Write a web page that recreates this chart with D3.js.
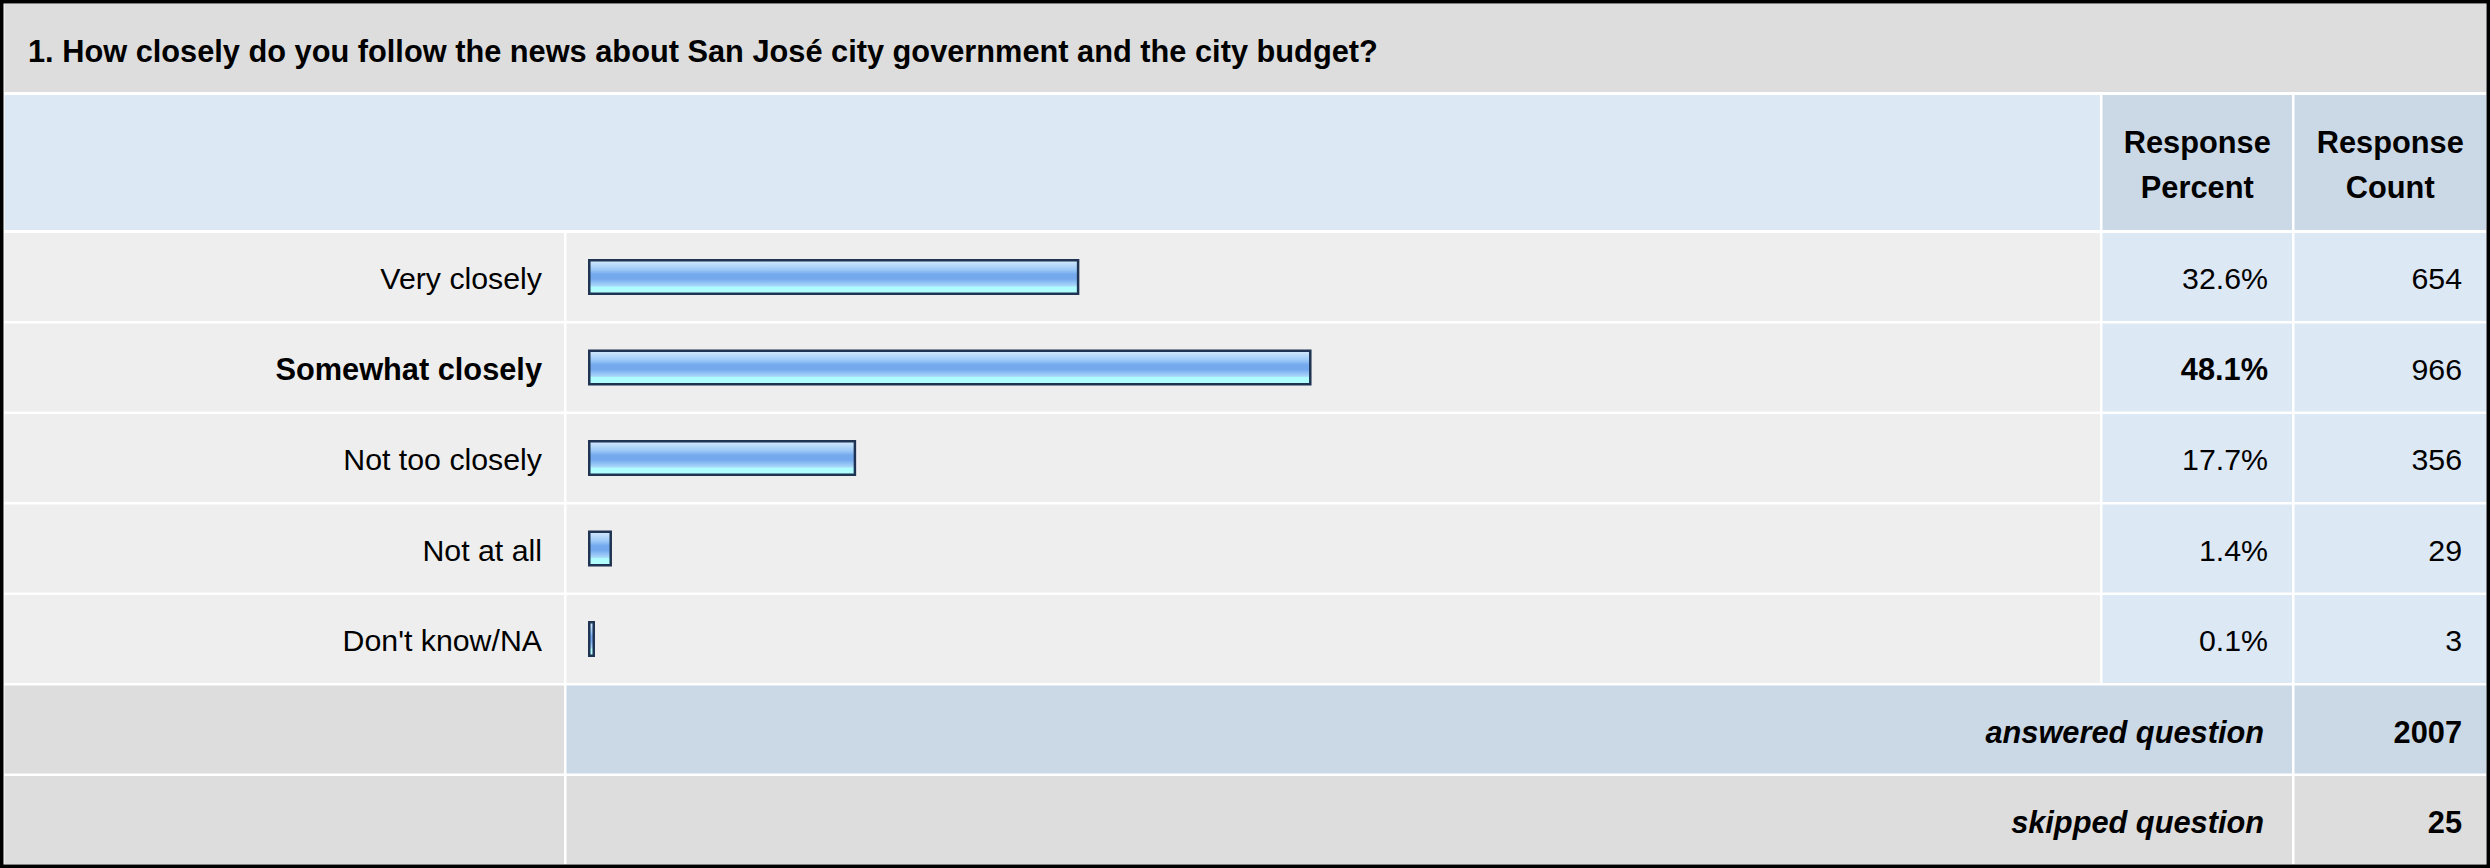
<!DOCTYPE html>
<html>
<head>
<meta charset="utf-8">
<script src="https://cdn.jsdelivr.net/npm/d3@7"></script>
<style>
  html, body { margin: 0; padding: 0; background: #fff; }
  svg { display: block; font-family: "Liberation Sans", Arial, sans-serif; }
</style>
</head>
<body>
<script>
const title = "1. How closely do you follow the news about San José city government and the city budget?";
const categories = ["Very closely", "Somewhat closely", "Not too closely", "Not at all", "Don't know/NA"];
const percents = [32.6, 48.1, 17.7, 1.4, 0.1];
const counts = [654, 966, 356, 29, 3];
const headerLabels = [["Response", "Percent"], ["Response", "Count"]];
const summaryLabels = ["answered question", "skipped question"];
const summaryValues = [2007, 25];

const W = 2490, H = 868;
const svg = d3.select("body").append("svg").attr("width", W).attr("height", H);

// gradient for bars
const defs = svg.append("defs");
const grad = defs.append("linearGradient").attr("id", "barGrad")
  .attr("x1", 0).attr("y1", 0).attr("x2", 0).attr("y2", 1);
[[0, "#d6eafd"], [0.14, "#b8daf9"], [0.28, "#9cc9f7"], [0.42, "#74a9ee"], [0.56, "#74a9ee"],
 [0.66, "#8fc0f4"], [0.76, "#a8d6f9"], [0.80, "#aefcff"], [1, "#b4ffff"]]
  .forEach(([o, c]) => grad.append("stop").attr("offset", o).attr("stop-color", c));

// frame
svg.append("rect").attr("width", W).attr("height", H).attr("fill", "#000");
svg.append("rect").attr("x", 3.5).attr("y", 3.5).attr("width", W - 7).attr("height", H - 7).attr("fill", "#fff");

const colL = [4.5, 566.5, 2102.5, 2294.5];
const colR = [564, 2100, 2292, 2486];
const FS = 30.3, FSB = 30.75;

function cell(x0, x1, y0, h, fill) {
  svg.append("rect").attr("x", x0).attr("y", y0).attr("width", x1 - x0).attr("height", h).attr("fill", fill);
}
function text(str, x, y, anchor, weight, style) {
  const w = weight || "normal";
  return svg.append("text").attr("x", x).attr("y", y).attr("text-anchor", anchor)
    .attr("font-size", w === "bold" ? FSB : FS).attr("font-weight", w)
    .attr("font-style", style || "normal").attr("fill", "#000").text(str);
}

// title row
cell(colL[0], colR[3], 4, 88, "#dddddd");
text(title, 28, 61.5, "start", "bold");

// header row
cell(colL[0], colR[1], 95, 135, "#dde8f5");
cell(colL[2], colR[2], 95, 135, "#cbd8e6");
cell(colL[3], colR[3], 95, 135, "#cbd8e6");
headerLabels.forEach((lines, j) => {
  const cx = (colL[j + 2] + colR[j + 2]) / 2;
  lines.forEach((ln, k) => text(ln, cx, 153 + k * 45, "middle", "bold"));
});

// rows
const rowKeys = d3.range(categories.length + summaryLabels.length);
const y = d3.scaleBand().domain(rowKeys).range([233, 864]).paddingInner(2.5 / 90.5).paddingOuter(0);
const x = d3.scaleLinear().domain([0, 100]).range([588, 2086]);
const maxIdx = d3.maxIndex(percents);

categories.forEach((cat, i) => {
  const y0 = y(i), h = y.bandwidth(), cy = y0 + h / 2;
  cell(colL[0], colR[0], y0, h, "#eeeeee");
  cell(colL[1], colR[1], y0, h, "#eeeeee");
  cell(colL[2], colR[2], y0, h, "#dde8f5");
  cell(colL[3], colR[3], y0, h, "#dde8f5");
  const bold = i === maxIdx ? "bold" : "normal";
  text(cat, 542, cy + 12, "end", bold);
  text(percents[i].toFixed(1) + "%", 2268, cy + 12, "end", bold);
  text(counts[i], 2462, cy + 12, "end", "normal");
});

// bars
svg.append("g").selectAll("rect").data(percents).join("rect")
  .attr("x", x(0) + 1.25)
  .attr("y", (d, i) => y(i) + y.bandwidth() / 2 - 18 + 1.25)
  .attr("width", d => Math.max(7, x(d) - x(0) + 3) - 2.5)
  .attr("height", 36 - 2.5)
  .attr("fill", "url(#barGrad)")
  .attr("stroke", "#1f3352")
  .attr("stroke-width", 2.5);

// summary rows
summaryLabels.forEach((lab, k) => {
  const i = categories.length + k;
  const y0 = y(i), h = y.bandwidth(), cy = y0 + h / 2;
  const fillMid = k === 0 ? "#cbd8e6" : "#dddddd";
  cell(colL[0], colR[0], y0, h, "#dddddd");
  cell(colL[1], colR[2], y0, h, fillMid);
  cell(colL[3], colR[3], y0, h, fillMid);
  text(lab, 2264, cy + 13, "end", "bold", "italic");
  text(summaryValues[k], 2462, cy + 13, "end", "bold");
});
</script>
</body>
</html>
